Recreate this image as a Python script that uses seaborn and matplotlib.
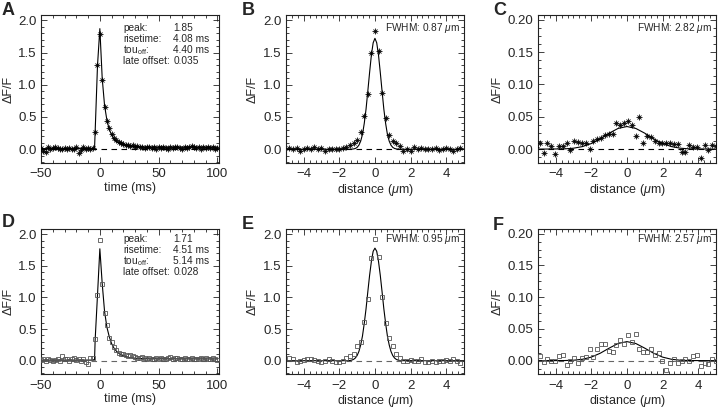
import numpy as np
import pandas as pd
import matplotlib
matplotlib.use('Agg')
import matplotlib.pyplot as plt
from matplotlib.ticker import MultipleLocator, AutoMinorLocator, FormatStrFormatter
import seaborn as sns

# time course (A, D), 2 ms sampling
time_ms = [-50, -48, -46, -44, -42, -40, -38, -36, -34, -32, -30, -28, -26, -24, -22,
           -20, -18, -16, -14, -12, -10, -8, -6, -4, -2, 0, 2, 4, 6, 8, 10, 12, 14, 16,
           18, 20, 22, 24, 26, 28, 30, 32, 34, 36, 38, 40, 42, 44, 46, 48, 50, 52, 54,
           56, 58, 60, 62, 64, 66, 68, 70, 72, 74, 76, 78, 80, 82, 84, 86, 88, 90, 92,
           94, 96, 98, 100]

dff_a = [0.02, -0.02, -0.04, 0.03, 0.01, 0.02, 0.04, 0.02, 0.01, 0.0, 0.02, 0.01,
         0.02, 0.0, 0.01, 0.03, -0.06, -0.01, 0.04, 0.01, 0.02, 0.01, 0.02,
         0.27, 1.30, 1.78, 1.07, 0.66, 0.44, 0.33, 0.23, 0.17, 0.14, 0.11, 0.09,
         0.08, 0.07, 0.06, 0.05, 0.06, 0.04,
         0.05, 0.03, 0.04, 0.02, 0.03, 0.04, 0.02, 0.03, 0.01, 0.03, 0.02, 0.04,
         0.02, 0.01, 0.03, 0.02, 0.04, 0.03, 0.02, 0.01, 0.03, 0.02, 0.04, 0.05,
         0.03, 0.02, 0.03, 0.01, 0.03, 0.02, 0.04, 0.02, 0.03, 0.01, 0.02]

dff_d = [0.01, 0.02, 0.0, 0.03, 0.01, 0.0, 0.01, 0.03, 0.0, 0.08, 0.02, 0.03,
         0.0, 0.03, 0.04, 0.01, 0.03, 0.0, 0.02, -0.02, -0.05, 0.04, 0.05,
         0.34, 1.04, 1.91, 1.22, 0.76, 0.57, 0.36, 0.30, 0.22, 0.17, 0.13, 0.11,
         0.10, 0.09, 0.08, 0.09, 0.08, 0.06,
         0.05, 0.04, 0.06, 0.05, 0.03, 0.04, 0.03, 0.02, 0.04, 0.03, 0.05, 0.02,
         0.03, 0.04, 0.06, 0.03, 0.04, 0.05, 0.03, 0.02, 0.04, 0.03, 0.02, 0.05,
         0.03, 0.02, 0.03, 0.04, 0.03, 0.05, 0.02, 0.03, 0.04, 0.03, 0.01]

fit_t_a = [-50, -6, -4.5, -4, -2, 0, 2, 4, 6, 8, 10, 12, 14, 16, 20, 25, 30, 40, 100]
fit_a = [0.01, 0.01, 0.02, 0.27, 1.30, 1.87, 1.10, 0.68, 0.45, 0.31, 0.22, 0.16,
         0.12, 0.10, 0.07, 0.05, 0.04, 0.036, 0.035]

fit_t_d = [-50, -6, -4.5, -4, -2, 0, 2, 4, 6, 8, 10, 12, 15, 20, 25, 30, 40, 100]
fit_d = [0.01, 0.01, 0.02, 0.33, 1.04, 1.77, 1.22, 0.78, 0.53, 0.38, 0.27, 0.20,
         0.13, 0.08, 0.05, 0.04, 0.03, 0.028]

# spatial profiles through the event centre (B, E)
dist_be = [-4.8, -4.6, -4.4, -4.2, -4.0, -3.8, -3.6, -3.4, -3.2, -3.0, -2.8, -2.6,
           -2.4, -2.2, -2.0, -1.8, -1.6, -1.4, -1.2, -1.0, -0.8, -0.6, -0.4, -0.2,
           0.0, 0.2, 0.4, 0.6, 0.8, 1.0, 1.2, 1.4, 1.6, 1.8, 2.0, 2.2, 2.4, 2.6,
           2.8, 3.0, 3.2, 3.4, 3.6, 3.8, 4.0, 4.2, 4.4, 4.6, 4.8]

dff_b = [0.02, 0.01, 0.02, -0.02, 0.01, 0.02, 0.0, 0.03, 0.01, 0.02, -0.03, 0.0,
         0.01, 0.0, 0.01, 0.02, 0.04,
         0.06, 0.10, 0.14, 0.26, 0.52, 0.86, 1.50, 1.83, 1.53, 0.87, 0.49, 0.22,
         0.13, 0.09, 0.05, -0.03,
         0.0, -0.02, 0.03, 0.01, 0.02, 0.0, 0.01, 0.01, 0.02, -0.01, 0.0, 0.02,
         0.01, -0.02, 0.01, 0.02]

dff_e = [0.05, 0.03, -0.02, 0.0, 0.01, 0.02, 0.02, 0.01, -0.01, -0.02, 0.0, 0.02,
         -0.01, -0.02, -0.02, -0.01, 0.04,
         0.07, 0.10, 0.23, 0.30, 0.62, 0.98, 1.62, 1.92, 1.64, 1.00, 0.59, 0.36,
         0.23, 0.10, 0.05, 0.0,
         0.0, 0.01, -0.01, 0.0, 0.03, -0.02, -0.02, 0.0, -0.02, -0.01, 0.0, 0.01,
         -0.01, 0.02, -0.01, -0.04]

fit_x_be = [-5.0, -1.5, -1.4, -1.3, -1.2, -1.1, -1.0, -0.9, -0.8, -0.7, -0.6, -0.5,
            -0.4, -0.3, -0.2, -0.1, 0.0, 0.1, 0.2, 0.3, 0.4, 0.5, 0.6, 0.7, 0.8,
            0.9, 1.0, 1.1, 1.2, 1.3, 1.4, 1.5, 5.0]
fit_b = [0.0, 0.0, 0.0, 0.002, 0.005, 0.012, 0.029, 0.063, 0.126, 0.23, 0.40, 0.62,
         0.90, 1.19, 1.46, 1.65, 1.72, 1.65, 1.46, 1.19, 0.90, 0.62, 0.40, 0.23,
         0.126, 0.063, 0.029, 0.012, 0.005, 0.002, 0.0, 0.0, 0.0]
fit_e = [0.0, 0.001, 0.004, 0.010, 0.021, 0.043, 0.082, 0.147, 0.25, 0.39, 0.59,
         0.82, 1.09, 1.35, 1.57, 1.73, 1.78, 1.73, 1.57, 1.35, 1.09, 0.82, 0.59,
         0.39, 0.25, 0.147, 0.082, 0.043, 0.021, 0.010, 0.004, 0.001, 0.0]

# spatial profiles at a distance (C, F)
dist_cf = [-5.10, -4.89, -4.67, -4.46, -4.24, -4.03, -3.81, -3.60, -3.38, -3.17,
           -2.95, -2.74, -2.52, -2.31, -2.09, -1.88, -1.66, -1.45, -1.23, -1.02,
           -0.80, -0.59, -0.37, -0.16, 0.06, 0.27, 0.49, 0.70, 0.92, 1.13, 1.35,
           1.56, 1.78, 1.99, 2.21, 2.42, 2.64, 2.85, 3.07, 3.28, 3.50, 3.71, 3.93,
           4.14, 4.36, 4.57, 4.79, 5.00, 5.22]

dff_c = [0.004, 0.010, -0.006, 0.009, 0.005, -0.008, 0.005, 0.005, 0.009, -0.002,
         0.013, 0.011, 0.010, 0.009, 0.0, 0.012, 0.015, 0.018, 0.022, 0.024,
         0.023, 0.040, 0.037, 0.040, 0.043, 0.037, 0.021, 0.049, 0.010, 0.020,
         0.019, 0.013, 0.010, 0.010, 0.009, 0.009, 0.008, 0.008, -0.004, -0.004,
         0.006, 0.004, 0.004, -0.013, 0.006, -0.002, 0.007, 0.005, 0.001]

dff_f = [0.005, 0.007, -0.002, 0.003, 0.0, 0.0, 0.007, 0.009, -0.007, 0.0,
         0.004, -0.004, 0.004, 0.005, 0.018, 0.005, 0.018, 0.026, 0.027, 0.015,
         0.014, 0.025, 0.033, 0.026, 0.040, 0.029, 0.042, 0.018, 0.014, 0.014,
         0.018, 0.009, 0.012, 0.0, -0.014, -0.003, 0.003, -0.003, 0.0, 0.003,
         -0.001, 0.008, 0.009, -0.008, -0.003, -0.005, 0.003, 0.0, -0.003]

fit_x_cf = [-5.3, -3.5, -3.0, -2.5, -2.0, -1.5, -1.0, -0.5, 0.0, 0.5, 1.0, 1.5, 2.0,
            2.5, 3.0, 3.5, 5.3]
fit_c = [0.0, 0.0005, 0.0015, 0.004, 0.0087, 0.016, 0.0247, 0.032, 0.035, 0.032,
         0.0247, 0.016, 0.0087, 0.004, 0.0015, 0.0005, 0.0]
fit_f = [0.0, 0.0002, 0.0007, 0.0022, 0.0056, 0.0117, 0.0197, 0.027, 0.030, 0.027,
         0.0197, 0.0117, 0.0056, 0.0022, 0.0007, 0.0002, 0.0]

kinetics_labels = ['peak:', 'risetime:', 'tou$_{\\rm off}$:', 'late offset:']
kinetics_a = ['1.85', '4.08 ms', '4.40 ms', '0.035']
kinetics_d = ['1.71', '4.51 ms', '5.14 ms', '0.028']
fwhm_labels = {'B': 'FWHM: 0.87 $\\mu$m', 'C': 'FWHM: 2.82 $\\mu$m',
               'E': 'FWHM: 0.95 $\\mu$m', 'F': 'FWHM: 2.57 $\\mu$m'}

sns.set_style('ticks')
plt.rcParams['font.family'] = ['Liberation Sans', 'DejaVu Sans']
plt.rcParams['mathtext.fontset'] = 'custom'
plt.rcParams['mathtext.rm'] = 'Liberation Sans'
plt.rcParams['mathtext.it'] = 'Liberation Sans:italic'

fig = plt.figure(figsize=(7.2, 4.08), dpi=100)

lefts = [0.057, 0.397, 0.747]
w = 0.2475
rows = [(0.601, 0.362), (0.0833, 0.355)]

panels = [
    ('A', 0, 0, time_ms, dff_a, fit_t_a, fit_a, 'time'),
    ('B', 0, 1, dist_be, dff_b, fit_x_be, fit_b, 'big'),
    ('C', 0, 2, dist_cf, dff_c, fit_x_cf, fit_c, 'small'),
    ('D', 1, 0, time_ms, dff_d, fit_t_d, fit_d, 'time'),
    ('E', 1, 1, dist_be, dff_e, fit_x_be, fit_e, 'big'),
    ('F', 1, 2, dist_cf, dff_f, fit_x_cf, fit_f, 'small'),
]

letter_pos = {'A': (2, 2), 'B': (242, 2), 'C': (493, 2),
              'D': (2, 214), 'E': (242, 216), 'F': (493, 217)}

for name, r, c, x, y, fx, fy, kind in panels:
    bottom, h = rows[r]
    ax = fig.add_axes([lefts[c], bottom, w, h])
    dash_col = 'black' if r == 0 else '#666666'
    ax.axhline(0, color=dash_col, lw=0.8, ls=(0, (5, 4)), zorder=1)
    sns.lineplot(x=fx, y=fy, ax=ax, color='black', lw=0.8, sort=False,
                 estimator=None, zorder=2)
    if r == 0:
        # IDL-style asterisk: plus and cross overlaid
        ax.plot(x, y, ls='none', marker='+', ms=3.8, mew=0.6, color='black', zorder=3)
        ax.plot(x, y, ls='none', marker='x', ms=2.8, mew=0.6, color='black', zorder=3)
    else:
        ax.plot(x, y, ls='none', marker='s', ms=3.4, mew=0.6, mfc='none',
                mec='#555555', zorder=3)

    if kind == 'time':
        ax.set_xlim(-50, 101.5)
        ax.xaxis.set_major_locator(MultipleLocator(50))
        ax.xaxis.set_minor_locator(AutoMinorLocator(5))
        ax.set_xlabel('time (ms)')
    else:
        ax.set_xlim(-5, 5)
        ax.xaxis.set_major_locator(MultipleLocator(2))
        ax.xaxis.set_minor_locator(AutoMinorLocator(6))
        ax.set_xlabel('distance ($\\mu$m)')

    if kind == 'small':
        ax.set_ylim(-0.021, 0.207)
        ax.yaxis.set_major_locator(MultipleLocator(0.05))
        ax.yaxis.set_minor_locator(AutoMinorLocator(4))
        ax.yaxis.set_major_formatter(FormatStrFormatter('%.2f'))
    else:
        ax.set_ylim(-0.21, 2.08)
        ax.yaxis.set_major_locator(MultipleLocator(0.5))
        ax.yaxis.set_minor_locator(AutoMinorLocator(5))
        ax.yaxis.set_major_formatter(FormatStrFormatter('%.1f'))

    ax.set_ylabel('ΔF/F', fontsize=9, labelpad=3)
    ax.xaxis.label.set_size(9)
    ax.xaxis.labelpad = 1

    ax.tick_params(which='both', direction='in', top=True, right=True,
                   width=0.6, color='#222222', labelsize=9.5)
    ax.tick_params(which='major', length=4)
    ax.tick_params(which='minor', length=2)
    ax.tick_params(axis='x', pad=4)
    ax.tick_params(axis='y', pad=3)
    for sp in ax.spines.values():
        sp.set_linewidth(0.8)
        sp.set_color('#222222')

    if kind == 'time':
        vals = kinetics_a if name == 'A' else kinetics_d
        y0 = 0.914 if name == 'A' else 0.93
        for i, (lab, val) in enumerate(zip(kinetics_labels, vals)):
            yy = y0 - i * 0.075
            ax.text(0.462, yy, lab, transform=ax.transAxes, fontsize=7.3, va='center')
            ax.text(0.743, yy, val, transform=ax.transAxes, fontsize=7.3, va='center')
    else:
        yy = 0.915 if r == 0 else 0.935
        ax.text(0.979, yy, fwhm_labels[name], transform=ax.transAxes,
                fontsize=7.3, va='center', ha='right')

    lx, ly = letter_pos[name]
    fig.text(lx / 720, 1 - ly / 408, name, fontsize=13, fontweight='bold',
             va='top', ha='left')

fig.savefig('out.png', dpi=100)
